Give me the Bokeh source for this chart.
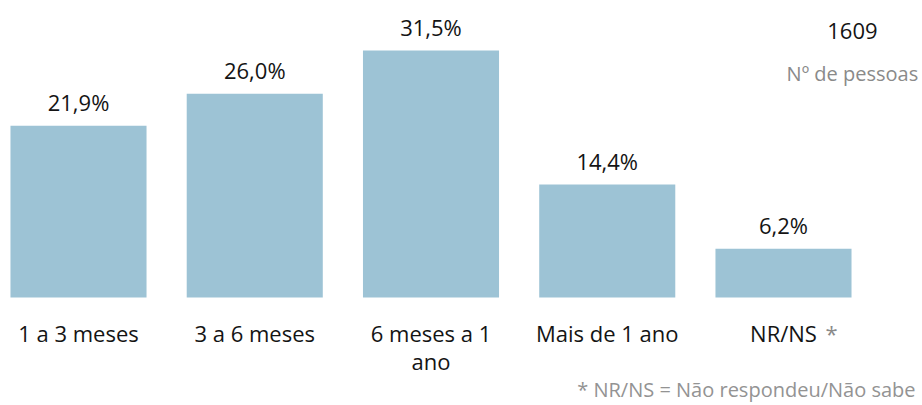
from bokeh.plotting import figure
from bokeh.models import Range1d, ColumnDataSource
from bokeh.embed import file_html
from bokeh.resources import INLINE
from bokeh.core.properties import value

# ---- data ----
categories = ["1 a 3 meses", "3 a 6 meses", "6 meses a 1\nano", "Mais de 1 ano", "NR/NS *"]
percentages = [21.9, 26.0, 31.5, 14.4, 6.2]
total_n = "1609"
total_caption = "Nº de pessoas"
footnote = "* NR/NS = Não respondeu/Não sabe"

FONT = value("Open Sans")
BAR_COLOR = "#9dc3d5"
DARK = "#141414"
GRAY = "#8a8a8a"

xs = list(range(len(categories)))
value_labels = [f"{v:.1f}".replace(".", ",") + "%" for v in percentages]

p = figure(width=922, height=405, output_backend="svg", toolbar_location=None,
           x_range=Range1d(-0.4426, 4.7887), y_range=Range1d(-13.78, 37.88),
           x_axis_location=None, y_axis_location=None,
           min_border=0, min_border_left=0, min_border_right=0,
           min_border_top=0, min_border_bottom=0)
p.xgrid.visible = False
p.ygrid.visible = False
p.outline_line_color = None
p.background_fill_color = "white"
p.border_fill_color = "white"

src = ColumnDataSource(dict(x=xs, top=percentages, lab=value_labels))
p.vbar(x="x", top="top", bottom=0, width=0.772, source=src,
       fill_color=BAR_COLOR, line_color=None)

# value labels above bars
p.text(x="x", y="top", text="lab", source=src, y_offset=-24,
       text_align="center", text_baseline="alphabetic",
       text_font=FONT, text_font_size="22px", text_color=DARK)

# category labels (split into lines, asterisk drawn in gray)
first, second, star_x = [], [], []
for i, c in enumerate(categories):
    lines = c.split("\n")
    l1 = lines[0]
    if l1.endswith(" *"):
        l1 = l1[:-2]
        star_x.append(i)
    first.append(l1)
    second.append(lines[1] if len(lines) > 1 else "")

p.text(x=xs, y=[0] * len(xs), text=first, y_offset=36,
       text_align="center", text_baseline="alphabetic",
       text_font=FONT, text_font_size="22px", text_color=DARK)
p.text(x=xs, y=[0] * len(xs), text=second, y_offset=64,
       text_align="center", text_baseline="alphabetic",
       text_font=FONT, text_font_size="22px", text_color=DARK)
p.text(x=star_x, y=[0] * len(star_x), text=["*"] * len(star_x),
       x_offset=42, y_offset=36,
       text_align="left", text_baseline="alphabetic",
       text_font=FONT, text_font_size="22px", text_color=GRAY)

# top-right total
p.text(x=[4.391], y=[33.93], text=[total_n], text_align="center",
       text_baseline="alphabetic", text_font=FONT, text_font_size="22px",
       text_color=DARK)
p.text(x=[4.391], y=[28.57], text=[total_caption], text_align="center",
       text_baseline="alphabetic", text_font=FONT, text_font_size="20px",
       text_color=GRAY)

# footnote
p.text(x=[4.749], y=[-11.8], text=[footnote], text_align="right",
       text_baseline="alphabetic", text_font=FONT, text_font_size="20px",
       text_color="#939393")

open("out.html", "w").write(file_html(p, INLINE))
